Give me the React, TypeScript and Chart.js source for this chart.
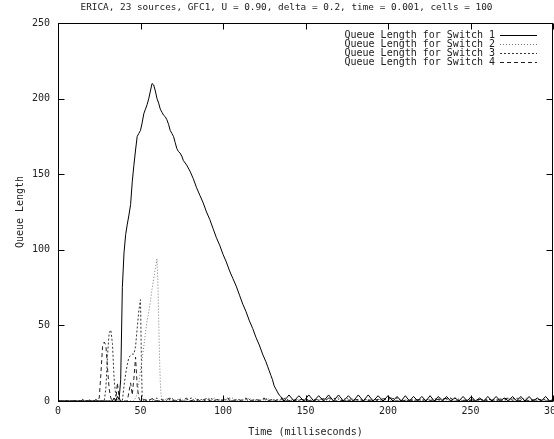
import React, { useEffect, useRef } from "react";
import { Chart, registerables } from "chart.js";
Chart.register(...registerables);

const TITLE = "ERICA, 23 sources, GFC1, U = 0.90, delta = 0.2, time = 0.001, cells = 100";
const X_TITLE = "Time (milliseconds)";
const Y_TITLE = "Queue Length";
const X_MIN = 0;
const X_MAX = 300;
const Y_MIN = 0;
const Y_MAX = 250;
const X_STEP = 50;
const Y_STEP = 50;
const LABELS = [
  "Queue Length for Switch 1",
  "Queue Length for Switch 2",
  "Queue Length for Switch 3",
  "Queue Length for Switch 4",
];

// [time (ms), queue length]
const switch1: [number, number][] = [
  [0, 0], [14, 0], [15, 1], [16, 0], [22, 0], [23, 1], [24, 0], [33, 0], [34, 2], [35, 0], [36, 3], [37, 1],
  [38, 14], [39, 75], [40, 98], [41, 110], [42, 117], [43, 123], [44, 130], [45, 145], [46, 156], [47, 166],
  [48, 175], [49, 177], [50, 179], [51, 184], [52, 190], [53, 193], [54, 196], [55, 200], [56, 205], [57, 210],
  [58, 209], [59, 205], [60, 200], [61, 197], [62, 193], [63, 191], [64, 189], [65, 188], [66, 186], [67, 183],
  [68, 179], [69, 177], [70, 175], [71, 171], [72, 167], [73, 165], [74, 164], [75, 162], [76, 159], [78, 156],
  [80, 152], [82, 147], [84, 141], [86, 136], [88, 131], [90, 125], [92, 120], [94, 114], [96, 108], [98, 103],
  [100, 97], [102, 92], [104, 86], [106, 81], [108, 76], [110, 70], [112, 64], [114, 59], [116, 53], [118, 48],
  [120, 42], [122, 37], [124, 31], [126, 26], [127, 23], [128, 20], [129, 17], [130, 14], [131, 10], [132, 8],
  [133, 6], [134, 4], [135, 3], [136, 1], [137, 0], [140, 4], [143, 0], [146, 3.5], [149, 0], [152, 4], [155, 0],
  [158, 3.5], [161, 0], [164, 4], [167, 0], [170, 4], [173, 0], [176, 3.5], [179, 0], [182, 4], [185, 0], [188, 4],
  [191, 0], [194, 3.5], [197, 0], [200, 3.5], [203, 0], [205.5, 3], [208, 0], [210.5, 3.5], [213, 0], [215.5, 3],
  [218, 0], [220.5, 3], [223, 0], [225.5, 3.5], [228, 0], [230.5, 3], [233, 0], [235.5, 3], [238, 0], [240.5, 2],
  [243, 0], [245.5, 3], [248, 0], [250.5, 3], [253, 0], [255.5, 2], [258, 0], [260.5, 3], [263, 0], [265.5, 3],
  [268, 0], [270.5, 2], [273, 0], [275.5, 3], [278, 0], [280.5, 3], [283, 0], [285.5, 3], [288, 0], [290.5, 2],
  [293, 0], [295.5, 3], [298, 0], [300, 1],
];

const switch2: [number, number][] = [
  [0, 0], [46, 0], [47, 2], [48, 5], [49, 12], [50, 20], [51, 28], [52, 36], [53, 45], [54, 53], [55, 59],
  [56, 66], [57, 74], [58, 81], [59, 88], [60, 94], [60.5, 80], [61, 55], [61.5, 30], [62, 12], [62.5, 4],
  [63, 1], [64, 0], [66, 2], [67, 0], [70, 1], [71, 0], [74, 2], [76, 0], [79, 1], [80, 0], [84, 2], [86, 0],
  [89, 1], [90, 0], [95, 2], [97, 0], [101, 1], [102, 0], [106, 2], [108, 0], [111, 1], [112, 0], [116, 2],
  [118, 0], [122, 1], [123, 0], [127, 2], [129, 0], [133, 1], [134, 0], [145, 1], [147, 0], [160, 1], [162, 0],
  [178, 2], [180, 0], [195, 1], [197, 0], [215, 1], [217, 0], [232, 2], [234, 0], [250, 1], [252, 0], [268, 1],
  [270, 0], [285, 2], [287, 0], [300, 0],
];

const switch3: [number, number][] = [
  [0, 0], [18, 0], [19, 1], [20, 0], [28, 0], [29, 8], [30, 30], [31, 45], [32, 47], [33, 38], [34, 15],
  [35, 3], [36, 0], [39, 0], [40, 10], [41, 18], [42, 24], [43, 29], [44, 30], [45, 31], [46, 31], [47, 36],
  [48, 48], [49, 60], [50, 67], [50.5, 30], [51, 3], [52, 0], [55, 1], [56, 0], [60, 2], [61, 0], [65, 1],
  [66, 0], [69, 2], [71, 0], [75, 1], [76, 0], [81, 2], [83, 0], [87, 1], [88, 0], [93, 2], [94, 0], [99, 1],
  [100, 0], [104, 2], [105, 0], [110, 1], [111, 0], [115, 2], [117, 0], [121, 1], [122, 0], [126, 2], [127, 0],
  [132, 1], [133, 0], [138, 2], [140, 0], [152, 1], [154, 0], [170, 2], [172, 0], [188, 1], [190, 0], [206, 2],
  [208, 0], [224, 1], [226, 0], [242, 2], [244, 0], [262, 1], [264, 0], [280, 2], [282, 0], [296, 1], [298, 0],
  [300, 0],
];

const switch4: [number, number][] = [
  [0, 0], [24, 0], [25, 2], [26, 18], [27, 36], [28, 39], [29, 37], [30, 22], [31, 8], [32, 2], [33, 0],
  [35, 0], [36, 12], [37, 2], [38, 0], [42, 0], [43, 6], [44, 12], [45, 4], [46, 15], [47, 29], [48, 10],
  [49, 2], [50, 0], [53, 1], [54, 0], [58, 2], [59, 0], [63, 1], [64, 0], [68, 2], [69, 0], [73, 1], [75, 0],
  [78, 2], [79, 0], [85, 1], [86, 0], [91, 2], [92, 0], [97, 1], [98, 0], [103, 2], [104, 0], [109, 1],
  [110, 0], [114, 2], [115, 0], [120, 1], [121, 0], [125, 2], [126, 0], [130, 1], [131, 0], [136, 2], [137, 0],
  [148, 1], [150, 0], [165, 2], [167, 0], [183, 1], [185, 0], [202, 2], [204, 0], [220, 1], [222, 0], [238, 2],
  [240, 0], [256, 1], [258, 0], [274, 2], [276, 0], [292, 1], [294, 0], [300, 0],
];

const SERIES = [switch1, switch2, switch3, switch4];
const COLORS = ["#000000", "#777777", "#333333", "#222222"];
const DASHES: number[][] = [[], [1, 2], [2, 2], [4, 3]];

const FONT = "'DejaVu Sans Mono', 'Liberation Mono', monospace";
const TEXT_COLOR = "#222222";

const framePlugin = {
  id: "gnuframe",
  afterDraw(chart: any) {
    const { ctx, chartArea, scales } = chart;
    const { left, right, top, bottom } = chartArea;
    const xs = scales.x;
    const ys = scales.y;
    const L = Math.round(left) + 0.5;
    const R = Math.round(right) - 0.5;
    const T = Math.round(top) + 0.5;
    const B = Math.round(bottom) + 0.5;
    ctx.save();
    // title, centred on the full (uncropped) picture width
    ctx.font = `9.4px ${FONT}`;
    ctx.fillStyle = TEXT_COLOR;
    ctx.textAlign = "center";
    ctx.textBaseline = "middle";
    ctx.fillText(TITLE, chart.width / 2 - 1, 8);

    ctx.strokeStyle = "#000";
    ctx.lineWidth = 1;
    ctx.setLineDash([]);
    ctx.strokeRect(L, T, R - L, B - T);
    const tick = 6;
    ctx.beginPath();
    for (let v = X_MIN; v <= X_MAX; v += X_STEP) {
      const px = Math.round(xs.getPixelForValue(v)) + 0.5;
      ctx.moveTo(px, B);
      ctx.lineTo(px, B - tick);
      ctx.moveTo(px, T);
      ctx.lineTo(px, T + tick);
    }
    for (let v = Y_MIN; v <= Y_MAX; v += Y_STEP) {
      const py = Math.round(ys.getPixelForValue(v)) + 0.5;
      ctx.moveTo(L, py);
      ctx.lineTo(L + tick, py);
      ctx.moveTo(R, py);
      ctx.lineTo(R - tick, py);
    }
    ctx.stroke();

    // legend (top-right inside plot)
    ctx.font = `10px ${FONT}`;
    ctx.textAlign = "right";
    ctx.textBaseline = "middle";
    chart.data.datasets.forEach((ds: any, i: number) => {
      const y = Math.round(top) + 12 + i * 9;
      ctx.fillStyle = TEXT_COLOR;
      ctx.fillText(ds.label, right - 58, y);
      ctx.strokeStyle = ds.borderColor;
      ctx.setLineDash(ds.borderDash || []);
      ctx.beginPath();
      ctx.moveTo(right - 53, y + 0.5);
      ctx.lineTo(right - 16, y + 0.5);
      ctx.stroke();
    });
    ctx.restore();
  },
};

export default function App() {
  const ref = useRef<HTMLCanvasElement | null>(null);
  useEffect(() => {
    if (!ref.current) return;
    const chart = new Chart(ref.current, {
      type: "line",
      data: {
        datasets: SERIES.map((s, i) => ({
          label: LABELS[i],
          data: s.map(([t, v]) => ({ x: t, y: v })),
          borderColor: COLORS[i],
          borderWidth: 1,
          borderDash: DASHES[i],
          pointRadius: 0,
          tension: 0,
          fill: false,
        })),
      },
      options: {
        animation: false,
        responsive: false,
        devicePixelRatio: 1,
        layout: { padding: { left: 0, top: 23, right: 22, bottom: 0 } },
        plugins: {
          legend: { display: false },
          tooltip: { enabled: false },
          title: { display: false },
        },
        scales: {
          x: {
            type: "linear",
            min: X_MIN,
            max: X_MAX,
            grid: { display: false, drawTicks: false },
            border: { display: false },
            ticks: {
              stepSize: X_STEP,
              padding: 4,
              color: TEXT_COLOR,
              font: { family: FONT, size: 10 },
              maxRotation: 0,
            },
            title: {
              display: true,
              text: X_TITLE,
              color: TEXT_COLOR,
              font: { family: FONT, size: 10 },
              padding: { top: 4, bottom: 1 },
            },
            afterFit: (s: any) => {
              s.height = 38;
            },
          },
          y: {
            type: "linear",
            min: Y_MIN,
            max: Y_MAX,
            grid: { display: false, drawTicks: false },
            border: { display: false },
            ticks: {
              stepSize: Y_STEP,
              padding: 8,
              color: TEXT_COLOR,
              font: { family: FONT, size: 10 },
            },
            title: {
              display: true,
              text: Y_TITLE,
              color: TEXT_COLOR,
              font: { family: FONT, size: 10 },
              padding: { top: 14, bottom: 0 },
            },
            afterFit: (s: any) => {
              s.width = 58;
            },
          },
        },
      },
      plugins: [framePlugin],
    } as any);
    return () => chart.destroy();
  }, []);
  return (
    <div
      style={{
        position: "fixed",
        left: 0,
        top: 0,
        width: 554,
        height: 439,
        overflow: "hidden",
        background: "#fff",
      }}
    >
      <canvas ref={ref} width={575} height={439} style={{ display: "block" }} />
    </div>
  );
}
